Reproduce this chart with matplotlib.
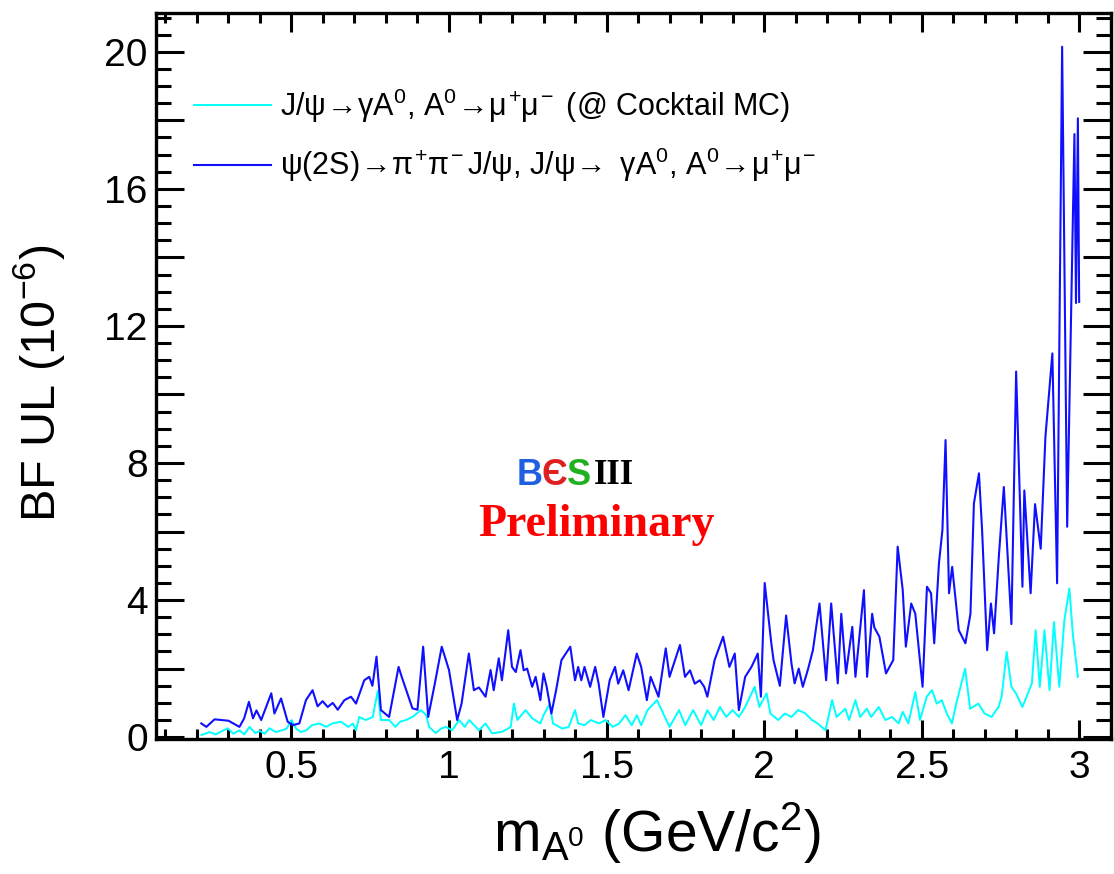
import matplotlib
matplotlib.use("Agg")
import matplotlib.pyplot as plt
from matplotlib.ticker import MultipleLocator, FuncFormatter

plt.rcParams['font.family'] = ['Liberation Sans', 'DejaVu Sans']
plt.rcParams['mathtext.fontset'] = 'custom'
plt.rcParams['mathtext.rm'] = 'Liberation Sans'
plt.rcParams['mathtext.it'] = 'Liberation Sans'
plt.rcParams['mathtext.bf'] = 'Liberation Sans:bold'

# psi(2S) -> pi+ pi- J/psi, J/psi -> gamma A0, A0 -> mu+ mu-  (blue)
blue_x = [0.214, 0.23, 0.256, 0.277, 0.30, 0.335, 0.35, 0.365, 0.378, 0.389,
          0.404, 0.436, 0.446, 0.467, 0.488, 0.504, 0.525, 0.546, 0.567, 0.583,
          0.599, 0.615, 0.631, 0.647, 0.668, 0.689, 0.705, 0.731, 0.747, 0.757,
          0.770, 0.784, 0.810, 0.840, 0.850, 0.884, 0.900, 0.918, 0.934, 0.955,
          0.977, 1.000, 1.026, 1.040, 1.063, 1.079, 1.095, 1.116, 1.132, 1.142,
          1.158, 1.168, 1.188, 1.200, 1.212, 1.227, 1.237, 1.248, 1.264, 1.275,
          1.290, 1.300, 1.310, 1.325, 1.340, 1.357, 1.385, 1.400, 1.410, 1.420,
          1.430, 1.448, 1.464, 1.475, 1.490, 1.510, 1.527, 1.537, 1.553, 1.570,
          1.596, 1.610, 1.628, 1.640, 1.665, 1.688, 1.700, 1.733, 1.749, 1.765,
          1.780, 1.796, 1.810, 1.820, 1.843, 1.870, 1.890, 1.907, 1.920, 1.940,
          1.960, 1.980, 1.990, 2.002, 2.023, 2.030, 2.050, 2.070, 2.087, 2.097,
          2.110, 2.123, 2.140, 2.155, 2.176, 2.197, 2.213, 2.234, 2.245, 2.260,
          2.280, 2.290, 2.317, 2.327, 2.343, 2.350, 2.366, 2.387, 2.410, 2.424,
          2.440, 2.450, 2.467, 2.480, 2.503, 2.517, 2.530, 2.540, 2.555, 2.566,
          2.576, 2.587, 2.597, 2.618, 2.639, 2.655, 2.666, 2.682, 2.692, 2.708,
          2.720, 2.730, 2.745, 2.761, 2.785, 2.800, 2.820, 2.826, 2.846, 2.860,
          2.878, 2.893, 2.915, 2.930, 2.946, 2.962, 2.985, 2.990, 2.996, 3.000]
blue_y = [0.40, 0.30, 0.52, 0.50, 0.48, 0.30, 0.55, 1.03, 0.55, 0.78,
          0.50, 1.28, 0.69, 1.13, 0.45, 0.35, 0.40, 1.08, 1.37, 0.90,
          1.05, 0.88, 1.00, 0.80, 1.08, 1.18, 0.98, 1.66, 1.76, 1.50,
          2.35, 0.79, 0.59, 2.05, 1.76, 0.84, 0.80, 2.64, 0.59, 1.56,
          2.64, 1.96, 0.50, 0.98, 2.44, 1.37, 1.45, 1.18, 1.96, 1.37,
          2.30, 1.66, 3.12, 2.05, 1.90, 2.54, 1.95, 2.00, 1.47, 1.76,
          1.08, 1.86, 1.47, 0.69, 1.37, 2.25, 2.64, 1.66, 2.05, 1.66,
          2.05, 1.47, 2.05, 1.56, 0.59, 1.66, 2.05, 1.56, 1.95, 1.37,
          2.44, 2.05, 1.08, 1.76, 1.18, 2.59, 1.76, 2.69, 1.76, 1.95,
          1.56, 1.66, 1.47, 1.18, 2.25, 2.93, 2.05, 2.44, 0.79, 1.76,
          2.05, 2.44, 1.18, 4.50, 2.74, 2.25, 1.50, 3.55, 2.15, 1.57,
          2.00, 1.47, 2.00, 2.54, 3.90, 1.66, 3.90, 1.57, 3.60, 1.86,
          3.22, 1.76, 4.29, 1.76, 3.60, 3.20, 2.93, 1.86, 2.25, 5.56,
          4.30, 2.64, 3.90, 3.60, 1.47, 4.39, 4.20, 2.74, 5.07, 6.04,
          8.67, 4.20, 4.97, 3.12, 2.74, 3.60, 6.82, 7.70, 6.04, 2.54,
          3.90, 3.03, 5.26, 7.30, 3.30, 10.67, 4.39, 7.20, 4.20, 6.80,
          5.50, 8.77, 11.20, 4.49, 20.15, 6.14, 17.60, 12.67, 18.06, 12.70]

# J/psi -> gamma A0, A0 -> mu+ mu- (@ Cocktail MC)  (cyan)
cyan_x = [0.214, 0.24, 0.26, 0.28, 0.298, 0.315, 0.335, 0.35, 0.367, 0.385,
          0.40, 0.415, 0.43, 0.45, 0.47, 0.485, 0.50, 0.515, 0.53, 0.547,
          0.565, 0.589, 0.61, 0.63, 0.657, 0.68, 0.695, 0.705, 0.715, 0.736,
          0.758, 0.774, 0.784, 0.81, 0.83, 0.845, 0.863, 0.884, 0.911, 0.927,
          0.937, 0.958, 0.975, 0.99, 1.01, 1.032, 1.05, 1.064, 1.085, 1.095,
          1.116, 1.137, 1.17, 1.196, 1.206, 1.217, 1.243, 1.264, 1.29, 1.30,
          1.32, 1.33, 1.36, 1.38, 1.40, 1.41, 1.43, 1.45, 1.476, 1.497,
          1.52, 1.54, 1.56, 1.58, 1.596, 1.61, 1.63, 1.66, 1.68, 1.70,
          1.73, 1.75, 1.775, 1.80, 1.82, 1.84, 1.86, 1.88, 1.90, 1.92,
          1.94, 1.97, 1.985, 2.008, 2.02, 2.045, 2.066, 2.087, 2.108, 2.13,
          2.152, 2.17, 2.195, 2.216, 2.23, 2.258, 2.27, 2.29, 2.305, 2.326,
          2.34, 2.364, 2.385, 2.406, 2.427, 2.44, 2.458, 2.48, 2.495, 2.516,
          2.533, 2.548, 2.564, 2.58, 2.596, 2.61, 2.638, 2.654, 2.68, 2.70,
          2.722, 2.744, 2.754, 2.77, 2.785, 2.80, 2.82, 2.85, 2.862, 2.875,
          2.89, 2.906, 2.92, 2.937, 2.953, 2.969, 2.98, 2.996]
cyan_y = [0.06, 0.15, 0.08, 0.18, 0.26, 0.10, 0.20, 0.08, 0.30, 0.12,
          0.18, 0.10, 0.26, 0.15, 0.20, 0.25, 0.50, 0.25, 0.15, 0.20,
          0.35, 0.40, 0.30, 0.40, 0.45, 0.30, 0.40, 0.20, 0.59, 0.50,
          0.59, 1.35, 0.50, 0.50, 0.30, 0.45, 0.50, 0.59, 0.79, 0.65,
          0.30, 0.12, 0.25, 0.30, 0.20, 0.50, 0.30, 0.50, 0.30, 0.20,
          0.40, 0.11, 0.16, 0.30, 0.98, 0.50, 0.79, 0.55, 0.40, 0.64,
          0.98, 0.40, 0.25, 0.30, 0.79, 0.40, 0.35, 0.50, 0.40, 0.50,
          0.30, 0.40, 0.64, 0.35, 0.64, 0.35, 0.79, 1.08, 0.69, 0.30,
          0.79, 0.35, 0.79, 0.35, 0.79, 0.50, 0.88, 0.59, 0.79, 0.59,
          0.88, 1.47, 0.88, 1.28, 0.69, 0.50, 0.69, 0.59, 0.79, 0.70,
          0.50, 0.40, 0.20, 1.08, 0.59, 0.83, 0.50, 1.08, 0.59, 0.83,
          0.59, 0.88, 0.50, 0.59, 0.40, 0.74, 0.40, 1.32, 0.50, 1.18,
          1.37, 0.98, 1.08, 0.69, 0.40, 0.98, 2.00, 0.83, 0.98, 0.69,
          0.59, 0.88, 1.18, 2.49, 1.47, 1.27, 0.88, 1.57, 3.12, 1.47,
          3.12, 1.37, 3.36, 1.47, 3.41, 4.34, 3.00, 1.76]

fig = plt.figure(figsize=(11.14, 8.74), dpi=100)
ax = fig.add_axes([0.140, 0.155, 0.857, 0.830])

ax.plot(cyan_x, cyan_y, color='#00ffff', lw=1.4,
        label=r'J/$\psi\!\rightarrow\!\gamma$A$^0$, A$^0\!\rightarrow\!\mu^{\!+}\!\mu^{\!-}$ (@ Cocktail MC)')
ax.plot(blue_x, blue_y, color='#1010ff', lw=1.5,
        label=r'$\psi$(2S)$\!\rightarrow\!\pi^{\!+}\!\pi^{\!-}$J/$\psi$, J/$\psi\!\rightarrow$ $\gamma$A$^0$, A$^0\!\rightarrow\!\mu^{\!+}\!\mu^{\!-}$')

ax.set_xlim(0.07, 3.1)
ax.set_ylim(-0.04, 21.13)

ax.xaxis.set_major_locator(MultipleLocator(0.5))
ax.xaxis.set_minor_locator(MultipleLocator(0.1))
ax.yaxis.set_major_locator(MultipleLocator(2))
ax.yaxis.set_minor_locator(MultipleLocator(0.5))
ax.xaxis.set_major_formatter(FuncFormatter(lambda v, p: f'{v:g}'))
ax.yaxis.set_major_formatter(FuncFormatter(lambda v, p: f'{v:g}' if round(v) % 4 == 0 else ''))

ax.tick_params(which='both', direction='in', top=True, right=True, width=2.2)
ax.tick_params(axis='x', which='major', length=14, labelsize=28, pad=8)
ax.tick_params(axis='x', which='minor', length=7)
ax.tick_params(axis='y', which='major', length=20, labelsize=28, pad=6)
ax.tick_params(axis='y', which='minor', length=11)
for s in ax.spines.values():
    s.set_linewidth(2.4)

ax.set_xlabel(r'm$_{\mathrm{A}^0}$ (GeV/c$^2$)', fontsize=41)
ax.xaxis.set_label_coords(0.525, -0.085)
ax.set_ylabel(r'BF UL (10$^{-6}$)', fontsize=35)
ax.yaxis.set_label_coords(-0.093, 0.49)

ax.legend(loc='upper left', bbox_to_anchor=(0.040, 0.899), frameon=False,
          fontsize=22, handlelength=2.5, handletextpad=0.3, labelspacing=0.7,
          borderpad=0, borderaxespad=0)

# BESIII logo + Preliminary
logo_y = 0.363
ax.text(0.391, logo_y, 'B', color='#1f5fe0', fontsize=26, fontweight='bold',
        ha='center', va='center', transform=ax.transAxes)
ax.text(0.417, logo_y, 'Є', color='#e02020', fontsize=26, fontweight='bold',
        ha='center', va='center', transform=ax.transAxes)
ax.text(0.443, logo_y, 'S', color='#20b020', fontsize=26, fontweight='bold',
        ha='center', va='center', transform=ax.transAxes)
ax.text(0.480, logo_y, 'III', color='black', fontsize=25, fontweight='bold',
        family='Liberation Serif', ha='center', va='center', transform=ax.transAxes)
ax.text(0.461, 0.294, 'Preliminary', color='red', fontsize=33, fontweight='bold',
        family='Liberation Serif', ha='center', va='center', transform=ax.transAxes)

fig.savefig('out.png', dpi=100)
